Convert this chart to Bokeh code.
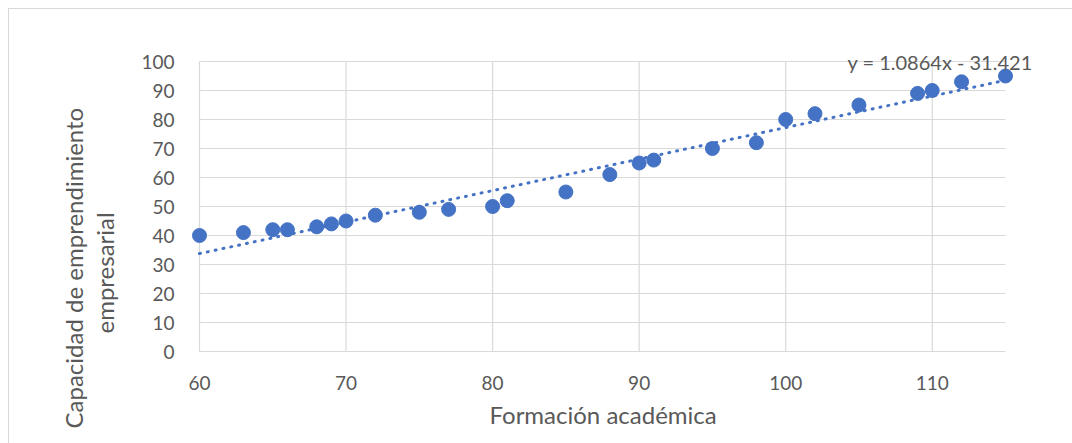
import numpy as np
from bokeh.plotting import figure
from bokeh.models import Range1d, FixedTicker, Label, Title
from bokeh.embed import file_html
from bokeh.resources import INLINE

# ---- data ----
formacion = [60, 63, 65, 66, 68, 69, 70, 72, 75, 77, 80, 81, 85, 88, 90, 91,
             95, 98, 100, 102, 105, 109, 110, 112, 115]
capacidad = [40, 41, 42, 42, 43, 44, 45, 47, 48, 49, 50, 52, 55, 61, 65, 66,
             70, 72, 80, 82, 85, 89, 90, 93, 95]
slope = 1.0864
intercept = -31.421
x_ticks = [60, 70, 80, 90, 100, 110]
y_ticks = [0, 10, 20, 30, 40, 50, 60, 70, 80, 90, 100]
x_min, x_max = 60, 115
y_min, y_max = 0, 100
x_title = "Formación académica"
y_title_1 = "Capacidad de emprendimiento"
y_title_2 = "empresarial"
eq_text = "y = 1.0864x - 31.421"

# ---- layout ----
FONT = "Lato"
TXT = "#595959"
GRID = "#d9d9d9"
BLUE = "#4472C4"
FS_TICK = "19px"
FS_EQ = "20px"
FS_TITLE = "24px"

plot_w, plot_h = 806, 290          # visible plot area (px)
pad_l, pad_r, pad_t, pad_b = 8, 50, 14, 8
frame_w, frame_h = plot_w + pad_l + pad_r, plot_h + pad_t + pad_b
px_x = plot_w / (x_max - x_min)
px_y = plot_h / (y_max - y_min)
border_l, border_t = 182, 38
canvas_w, canvas_h = 1063, 434

p = figure(
    frame_width=frame_w, frame_height=frame_h,
    x_range=Range1d(x_min - pad_l / px_x, x_max + pad_r / px_x),
    y_range=Range1d(y_min - pad_b / px_y, y_max + pad_t / px_y),
    output_backend="svg", toolbar_location=None,
    min_border_left=border_l, min_border_right=canvas_w - border_l - frame_w,
    min_border_top=border_t, min_border_bottom=canvas_h - border_t - frame_h,
)
p.styles = {"margin-left": "8px", "margin-top": "8px",
            "border-top": "1px solid #d9d9d9", "border-left": "1px solid #d9d9d9"}
p.outline_line_color = None
p.background_fill_color = "white"
p.border_fill_color = "white"
p.grid.visible = False

for ax in (p.xaxis[0], p.yaxis[0]):
    ax.axis_line_color = None
    ax.major_tick_line_color = None
    ax.minor_tick_line_color = None
    ax.major_label_text_font = FONT
    ax.major_label_text_font_size = FS_TICK
    ax.major_label_text_color = TXT
p.xaxis.ticker = FixedTicker(ticks=x_ticks)
p.yaxis.ticker = FixedTicker(ticks=y_ticks)
p.xaxis.major_label_standoff = 10
p.yaxis.major_label_standoff = 11
# invisible spacer label to push the y titles outward
p.yaxis.axis_label = " "
p.yaxis.axis_label_text_font_size = "10px"
p.yaxis.axis_label_standoff = 5

# grid lines drawn within the data bounds
p.segment(x0=x_ticks, x1=x_ticks, y0=[y_min] * len(x_ticks), y1=[y_max] * len(x_ticks),
          line_color=GRID, line_width=1.2)
p.segment(x0=[x_min] * len(y_ticks), x1=[x_max] * len(y_ticks), y0=y_ticks, y1=y_ticks,
          line_color=GRID, line_width=1.2)

# data
p.scatter(formacion, capacidad, size=14, fill_color=BLUE, line_color=BLUE)

# trendline
tx = np.array([min(formacion), max(formacion)], dtype=float)
ty = slope * tx + intercept
p.line(tx, ty, line_color=BLUE, line_width=3, line_dash="1 7", line_cap="round")

# equation label (inside frame)
frame_left_page, frame_bottom_page = 191, 359
p.add_layout(Label(x=847 - frame_left_page, y=frame_bottom_page - 61.5,
                   x_units="screen", y_units="screen", text=eq_text,
                   text_font=FONT, text_font_size=FS_EQ, text_color=TXT,
                   text_align="left", text_baseline="middle"))

# axis titles
def title(text, offset, standoff):
    return Title(text=text, align="left", offset=offset,
                 text_font=FONT, text_font_size=FS_TITLE, text_color=TXT,
                 text_font_style="normal", vertical_align="middle", standoff=standoff)

p.add_layout(title(x_title, 489 - frame_left_page, 12), "below")
p.add_layout(title(y_title_2, frame_bottom_page - 333, 0), "left")
p.add_layout(title(y_title_1, frame_bottom_page - 428, 0), "left")

open("out.html", "w").write(file_html(p, INLINE))
